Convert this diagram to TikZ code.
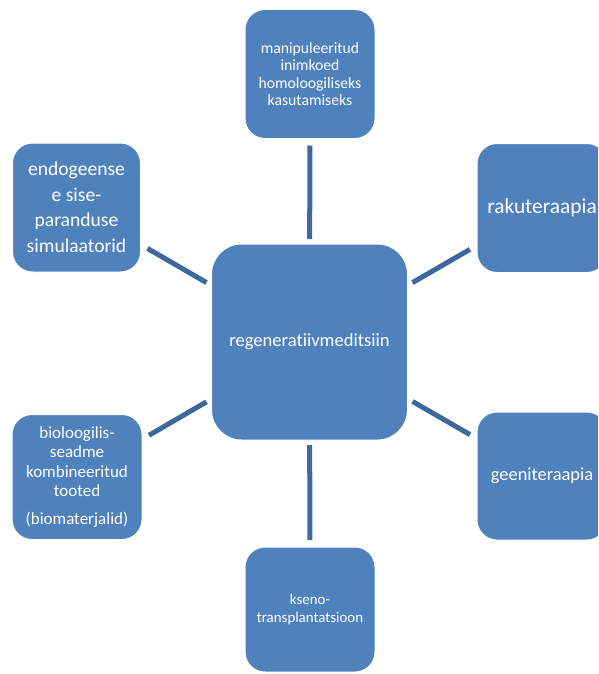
\documentclass[tikz,border=0pt]{standalone}
\usepackage{fontspec}
\setmainfont[Ligatures=NoCommon]{Carlito}
\definecolor{boxblue}{RGB}{79,129,189}
\definecolor{linkblue}{RGB}{62,103,156}
\begin{document}
\begin{tikzpicture}[x=1pt,y=-1pt,
  box/.style={draw=white, line width=1pt, fill=boxblue, text=white, rounded corners=20pt,
    minimum width=130pt, minimum height=129pt, align=center, inner sep=0pt, outer sep=7pt},
  link/.style={draw=linkblue, line width=5pt}]
\useasboundingbox (0,0) rectangle (598,674);
\clip (0,0) rectangle (598,674);
\node[box, minimum width=196pt, minimum height=196pt, rounded corners=30pt, outer sep=5pt,
  font=\fontsize{18.6}{22}\selectfont] (c) at (309.5,342) {regeneratiivmeditsiin};
\node[box, font=\fontsize{15.7}{17.5}\selectfont] (t) at (310,74)
  {manipuleeritud\\inimkoed\\homoloogiliseks\\kasutamiseks};
\node[box, minimum width=128pt, font=\fontsize{19.6}{25.5}\selectfont] (tl) at (76.5,207.5)
  {endogeense\\e sise-\\paranduse\\simulaatorid};
\node[box, font=\fontsize{21.4}{24}\selectfont] (r) at (542,208) {rakuteraapia};
\node[box, minimum height=125pt, font=\fontsize{17}{19.5}\selectfont] (bl) at (77,477)
  {bioloogilis-\\seadme\\kombineeritud\\tooted\\[8pt](biomaterjalid)};
\node[box, minimum height=128pt, font=\fontsize{18.4}{22}\selectfont] (br) at (542,476) {geeniteraapia};
\node[box, minimum height=125pt, font=\fontsize{14.9}{18}\selectfont] (b) at (310,609.5)
  {kseno-\\transplantatsioon};
\draw[link] (c) -- (t);
\draw[link] (c) -- (tl);
\draw[link] (c) -- (r);
\draw[link] (c) -- (bl);
\draw[link] (c) -- (br);
\draw[link] (c) -- (b);
\end{tikzpicture}
\end{document}
